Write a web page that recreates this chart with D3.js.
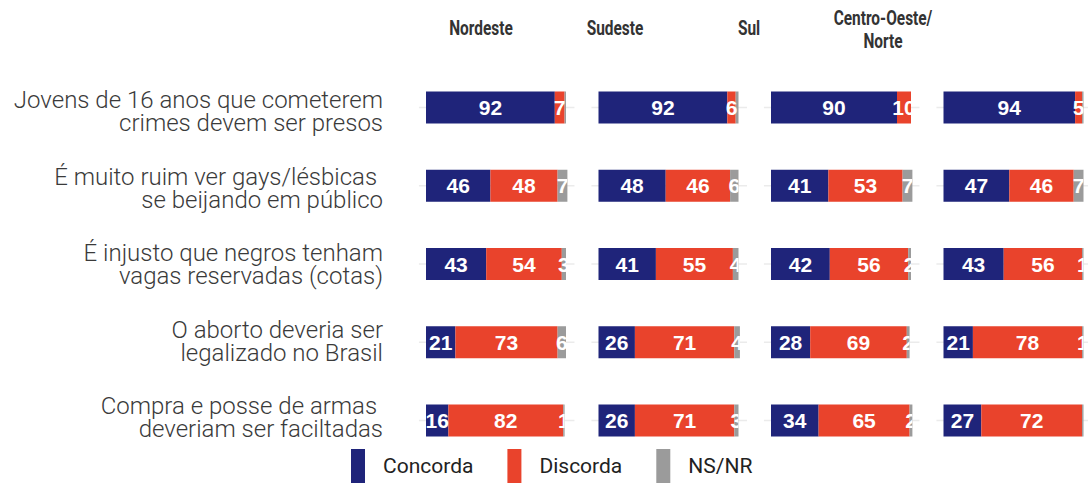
<!DOCTYPE html>
<html>
<head>
<meta charset="utf-8">
<script src="https://cdn.jsdelivr.net/npm/d3@7/dist/d3.min.js"></script>
<style>
  html, body { margin: 0; padding: 0; background: #fff; }
  svg { display: block; }
</style>
</head>
<body>
<svg id="chart" width="1088" height="483"></svg>
<script>
// Regions (facets) and survey statements
const regions = ["Nordeste", "Sudeste", "Sul", "Centro-Oeste/Norte"];
const regionTitles = [["Nordeste"], ["Sudeste"], ["Sul"], ["Centro-Oeste/", "Norte"]];

const questions = ["q1", "q2", "q3", "q4", "q5"];
const questionLines = [
  ["Jovens de 16 anos que cometerem", "crimes devem ser presos"],
  ["É muito ruim ver gays/lésbicas\u00a0", "se beijando em público"],
  ["É injusto que negros tenham", "vagas reservadas (cotas)"],
  ["O aborto deveria ser", "legalizado no Brasil"],
  ["Compra e posse de armas\u00a0", "deveriam ser faciltadas"]
];

// Percentages per statement (rows) and region (columns)
const concorda = [
  [92, 92, 90, 94],
  [46, 48, 41, 47],
  [43, 41, 42, 43],
  [21, 26, 28, 21],
  [16, 26, 34, 27]
];
const discorda = [
  [7, 6, 10, 5],
  [48, 46, 53, 46],
  [54, 55, 56, 56],
  [73, 71, 69, 78],
  [82, 71, 65, 72]
];
const nsnr = [
  [1, 2, 0, 1],
  [7, 6, 7, 7],
  [3, 4, 2, 1],
  [6, 4, 2, 1],
  [1, 3, 2, 1]
];
// NS/NR cells printed without a number
const nsnrUnlabelled = [[0, 0], [0, 1], [0, 3], [4, 3]];

const seriesNames = ["Concorda", "Discorda", "NS/NR"];
const seriesValues = [concorda, discorda, nsnr];
const colors = ["#1f247a", "#e9432c", "#9b9b9b"];

const svg = d3.select("#chart");

// Scales
const panelX = d3.scalePoint().domain(regions).range([426, 943.5]);
const x = d3.scaleLinear().domain([0, 101]).range([0, 141.4]);
const y = d3.scalePoint().domain(questions).range([107.5, 420.5]);
const labelY = d3.scalePoint().domain(questions).range([108, 414]);
const titleX = d3.scalePoint().domain(regions).range([481, 883]);
const color = d3.scaleOrdinal().domain(seriesNames).range(colors);
const barH = 32;

// Build stacked cells
const cells = [];
questions.forEach((q, qi) => {
  regions.forEach((r, ri) => {
    let acc = 0;
    seriesNames.forEach((s, si) => {
      const v = seriesValues[si][qi][ri];
      const hidden = si === 2 && nsnrUnlabelled.some(p => p[0] === qi && p[1] === ri);
      cells.push({ q, qi, r, ri, s, v, x0: acc, x1: acc + v, hidden });
      acc += v;
    });
  });
});

// Panels
const defs = svg.append("defs");
regions.forEach((r, ri) => {
  const g = svg.append("g").attr("transform", `translate(${panelX(r)},0)`);

  // horizontal grid lines behind bars
  g.selectAll("line.grid").data(questions).join("line")
    .attr("class", "grid")
    .attr("x1", x(-5.05)).attr("x2", x(106.05))
    .attr("y1", d => y(d)).attr("y2", d => y(d))
    .attr("stroke", "#ebebeb").attr("stroke-width", 1.6);

  const pc = cells.filter(c => c.ri === ri);

  g.selectAll("rect.seg").data(pc).join("rect")
    .attr("class", "seg")
    .attr("x", d => x(d.x0))
    .attr("width", d => x(d.x1) - x(d.x0))
    .attr("y", d => y(d.q) - barH / 2)
    .attr("height", barH)
    .attr("fill", d => color(d.s));

  // clip labels to the extent of each bar
  questions.forEach((q, qi) => {
    const total = concorda[qi][ri] + discorda[qi][ri] + nsnr[qi][ri];
    defs.append("clipPath").attr("id", `clip-${ri}-${qi}`)
      .append("rect")
      .attr("x", x(0)).attr("width", x(total) - x(0))
      .attr("y", y(q) - barH / 2).attr("height", barH);
  });

  g.selectAll("text.val").data(pc.filter(d => d.v > 0 && !d.hidden)).join("text")
    .attr("class", "val")
    .attr("clip-path", d => `url(#clip-${d.ri}-${d.qi})`)
    .attr("x", d => x((d.x0 + d.x1) / 2))
    .attr("y", d => y(d.q) + 7.5)
    .attr("text-anchor", "middle")
    .attr("font-family", "Liberation Sans, Arial, sans-serif")
    .attr("font-weight", 700)
    .attr("font-size", 21)
    .attr("fill", "#ffffff")
    .text(d => d.v);
});

// Column headers (condensed bold)
regions.forEach((r, ri) => {
  const lines = regionTitles[ri];
  const base = lines.length === 1 ? 35 : 25;
  const txt = svg.append("text")
    .attr("y", base)
    .attr("text-anchor", "middle")
    .attr("font-family", "Roboto, sans-serif")
    .attr("font-weight", 700)
    .attr("font-size", 21)
    .attr("fill", "#333333");
  lines.forEach((t, li) => {
    const ts = txt.append("tspan")
      .attr("x", titleX(r))
      .attr("dy", li === 0 ? 0 : 23)
      .text(t);
    const w = ts.node().getComputedTextLength();
    ts.attr("textLength", w * 0.735).attr("lengthAdjust", "spacingAndGlyphs");
  });
});

// Statement labels on the left, two lines each
questions.forEach((q, qi) => {
  const txt = svg.append("text")
    .attr("y", labelY(q))
    .attr("text-anchor", "end")
    .attr("font-family", "Roboto, sans-serif")
    .attr("font-weight", 300)
    .attr("font-size", 24)
    .attr("fill", "#3a3a3a");
  questionLines[qi].forEach((t, li) => {
    txt.append("tspan")
      .attr("x", 383)
      .attr("dy", li === 0 ? 0 : 23)
      .text(t);
  });
});

// Legend
const legend = svg.append("g");
let lx = 351;
seriesNames.forEach(s => {
  legend.append("rect")
    .attr("x", lx).attr("y", 449)
    .attr("width", 14).attr("height", 34)
    .attr("fill", color(s));
  const t = legend.append("text")
    .attr("x", lx + 32).attr("y", 473)
    .attr("font-family", "Roboto, sans-serif")
    .attr("font-weight", 400)
    .attr("font-size", 21)
    .attr("fill", "#222222")
    .text(s);
  lx += 32 + t.node().getComputedTextLength() + 34;
});
</script>
</body>
</html>
